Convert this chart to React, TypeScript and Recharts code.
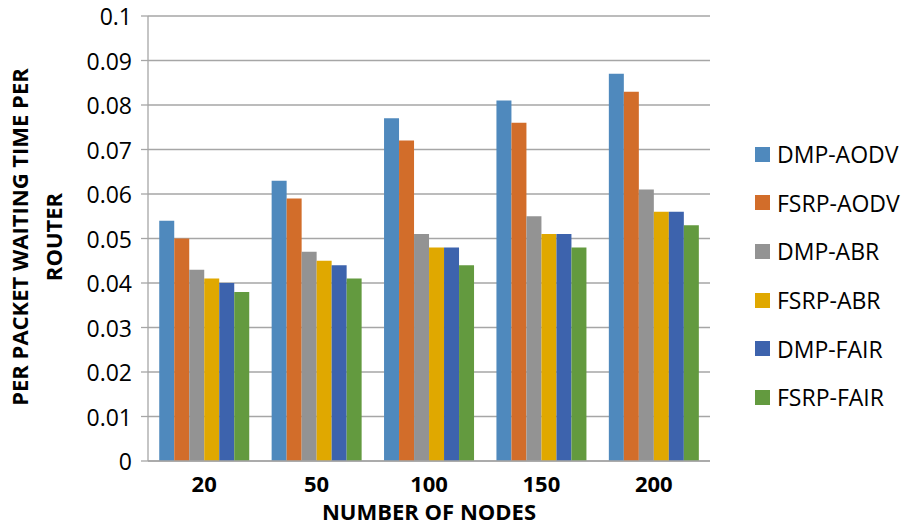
import React from 'react';
import { BarChart, Bar, XAxis, YAxis, CartesianGrid, Legend, Label } from 'recharts';

const categories = ['20', '50', '100', '150', '200'];
const dmpAodv = [0.054, 0.063, 0.077, 0.081, 0.087];
const fsrpAodv = [0.05, 0.059, 0.072, 0.076, 0.083];
const dmpAbr = [0.043, 0.047, 0.051, 0.055, 0.061];
const fsrpAbr = [0.041, 0.045, 0.048, 0.051, 0.056];
const dmpFair = [0.04, 0.044, 0.048, 0.051, 0.056];
const fsrpFair = [0.038, 0.041, 0.044, 0.048, 0.053];
const yTicks = [0, 0.01, 0.02, 0.03, 0.04, 0.05, 0.06, 0.07, 0.08, 0.09, 0.1];
const yTickLabels = ['0', '0.01', '0.02', '0.03', '0.04', '0.05', '0.06', '0.07', '0.08', '0.09', '0.1'];

const seriesKeys = ['dmpAodv', 'fsrpAodv', 'dmpAbr', 'fsrpAbr', 'dmpFair', 'fsrpFair'];
const seriesNames = ['DMP-AODV', 'FSRP-AODV', 'DMP-ABR', 'FSRP-ABR', 'DMP-FAIR', 'FSRP-FAIR'];
const seriesColors = ['#4F89BD', '#D26D2A', '#939393', '#E0A800', '#3D63AD', '#639A3F'];
const seriesValues = [dmpAodv, fsrpAodv, dmpAbr, fsrpAbr, dmpFair, fsrpFair];

const data = categories.map((c, i) => {
  const row: Record<string, string | number> = { category: c };
  seriesKeys.forEach((k, s) => {
    row[k] = seriesValues[s][i];
  });
  return row;
});

const FONT = '"Open Sans", "Noto Sans", sans-serif';
const GRID = '#A6A6A6';

const XTick = (p: any) => (
  <text x={p.x} y={p.y + 31} textAnchor="middle" fontFamily={FONT} fontWeight="bold" fontSize={22} fill="#000">
    {p.payload.value}
  </text>
);

const YTick = (p: any) => {
  const idx = yTicks.indexOf(p.payload.value);
  const label = idx >= 0 ? yTickLabels[idx] : String(p.payload.value);
  return (
    <text x={p.x} y={p.y + 9} textAnchor="end" fontFamily={FONT} fontSize={23} fill="#000">
      {label}
    </text>
  );
};

const YTitle = () => (
  <g>
    <text transform="translate(28,237) rotate(-90)" textAnchor="middle" fontFamily={FONT} fontWeight="bold" fontSize={22} fill="#000">
      PER PACKET WAITING TIME PER
    </text>
    <text transform="translate(62,237) rotate(-90)" textAnchor="middle" fontFamily={FONT} fontWeight="bold" fontSize={22} fill="#000">
      ROUTER
    </text>
  </g>
);

const XTitle = () => (
  <text x={429} y={520} textAnchor="middle" fontFamily={FONT} fontWeight="bold" fontSize={22} fill="#000">
    NUMBER OF NODES
  </text>
);

const LegendContent = () => (
  <div style={{ fontFamily: FONT, fontSize: 23, color: '#000' }}>
    {seriesNames.map((n, i) => (
      <div key={n} style={{ display: 'flex', alignItems: 'center', height: 48.6 }}>
        <span style={{ display: 'inline-block', width: 15, height: 15, background: seriesColors[i], marginRight: 7 }} />
        <span style={{ whiteSpace: 'nowrap' }}>{n}</span>
      </div>
    ))}
  </div>
);

export default function App() {
  return (
    <div style={{ position: 'absolute', left: 0, top: 0, width: 905, height: 529, background: '#fff' }}>
      <BarChart
        width={905}
        height={529}
        data={data}
        margin={{ top: 16, right: 195, bottom: 0, left: 0 }}
        barCategoryGap="10%"
        barGap={0}
      >
        <CartesianGrid vertical={false} stroke={GRID} strokeWidth={1.3} />
        <XAxis
          dataKey="category"
          height={68}
          tickLine={false}
          tickSize={0}
          tickMargin={0}
          axisLine={{ stroke: GRID, strokeWidth: 1.3 }}
          tick={<XTick />}
          interval={0}
        >
          <Label content={<XTitle />} />
        </XAxis>
        <YAxis
          width={148}
          domain={[0, 0.1]}
          ticks={yTicks}
          interval={0}
          tickSize={7}
          tickMargin={9}
          axisLine={{ stroke: GRID, strokeWidth: 1.3 }}
          tickLine={{ stroke: GRID, strokeWidth: 1.3 }}
          tick={<YTick />}
        >
          <Label content={<YTitle />} />
        </YAxis>
        {seriesKeys.map((k, i) => (
          <Bar key={k} dataKey={k} name={seriesNames[i]} fill={seriesColors[i]} isAnimationActive={false} />
        ))}
        <Legend
          layout="vertical"
          align="center"
          verticalAlign="middle"
          content={<LegendContent />}
          wrapperStyle={{ left: 755, top: 130, width: 150 }}
        />
      </BarChart>
    </div>
  );
}
